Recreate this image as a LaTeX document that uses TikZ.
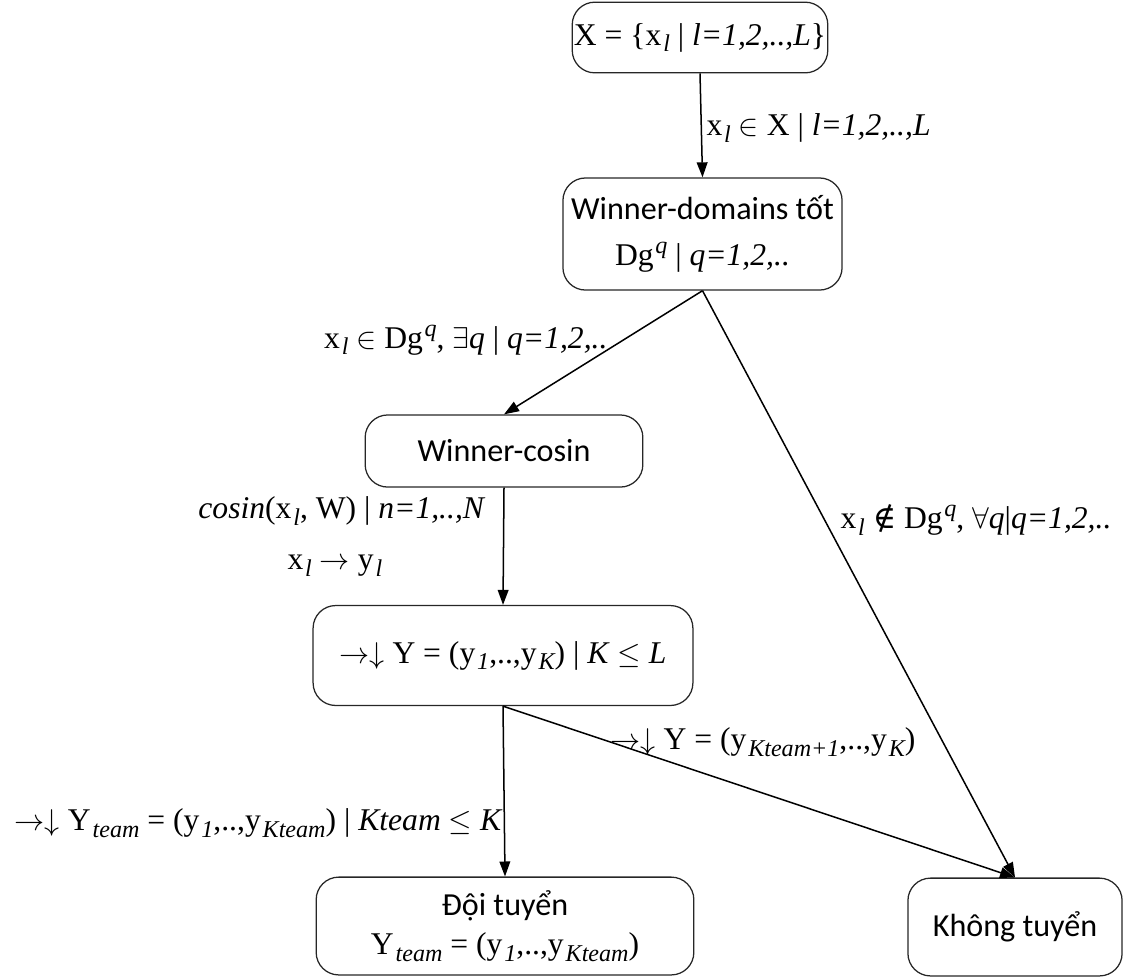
\documentclass[tikz,border=0pt]{standalone}
\usepackage{fontspec}
\setmainfont{Liberation Serif}
\newfontfamily\boxfont{Carlito}
\newfontfamily\symfont{DejaVu Serif}
\usetikzlibrary{arrows.meta,calc,positioning}

\newcommand{\sbi}[1]{\kern0.06em\raisebox{-0.45ex}{\fontsize{9.6}{10}\selectfont\itshape #1}}
\newcommand{\spi}[1]{\kern0.05em\raisebox{0.85ex}{\fontsize{9.6}{10}\selectfont\itshape #1}}
\newcommand{\sanslabel}{\boxfont\fontsize{12.8}{14}\selectfont}

\begin{document}
\begin{tikzpicture}[
  x=0.014cm, y=-0.014cm,
  box/.style={draw=black!85,line width=0.5pt,rounded corners=9pt,align=center,inner sep=0pt,font=\fontsize{12.6}{18.5}\selectfont},
  lbl/.style={inner sep=0pt,font=\fontsize{12.6}{15}\selectfont},
  arr/.style={-{Triangle[length=2.1mm,width=1.5mm]},line width=0.6pt}
]
  \useasboundingbox (0,0) rectangle (1123,976);

  \node[box,minimum width=3.58cm,minimum height=0.99cm] (xset) at (700,37.5)
    {X = \{x\sbi{l} | \textit{l=1,2,..,L}\}};
  \node[box,minimum width=3.91cm,minimum height=1.57cm] (dom) at (702.5,234)
    {{\sanslabel Winner-domains tốt}\\Dg\spi{q} | \textit{q=1,2,..}};
  \node[box,minimum width=3.89cm,minimum height=1.01cm] (cosin) at (504,451)
    {\sanslabel Winner-cosin};
  \node[box,minimum width=5.32cm,minimum height=1.40cm] (ybox) at (503,655.5)
    {$\rightarrow\downarrow$ Y = (y\sbi{1},..,y\sbi{K}) | \textit{K} $\leq$ \textit{L}};
  \node[box,minimum width=5.29cm,minimum height=1.37cm] (team) at (505,926)
    {{\sanslabel Đội tuyển}\\[-3pt]Y\sbi{team} = (y\sbi{1},..,y\sbi{Kteam})};
  \node[box,minimum width=3.00cm,minimum height=1.37cm] (reject) at (1015,927)
    {\sanslabel Không tuyển};

  \draw[arr] (xset.south) -- (dom.north);
  \draw[arr] (dom.south) -- (cosin.north);
  \draw[arr] (dom.south) -- (reject.north);
  \draw[arr] (cosin.south) -- (ybox.north);
  \draw[arr] (ybox.south) -- (team.north);
  \draw[arr] (ybox.south) -- (reject.north);

  \node[lbl,anchor=west] (lxset) at (706,128) {x\sbi{l} $\in$ X | \textit{l=1,2,..,L}};
  \node[lbl,anchor=east] (ldom) at (608,340) {x\sbi{l} $\in$ Dg\spi{q}, $\exists$\textit{q} | \textit{q=1,2,..}};
  \node[lbl,anchor=east] (lcos) at (486,511) {\textit{cosin}(x\sbi{l}, W) | \textit{n=1,..,N}};
  \node[lbl,anchor=west] (lmap) at (287,566) {x\sbi{l} $\rightarrow$ y\sbi{l}};
  \node[lbl,anchor=west] (lout) at (840,520) {x\sbi{l} {\symfont ∉} Dg\spi{q}, $\forall$\textit{q}|\textit{q=1,2,..}};
  \node[lbl,anchor=west] (lrest) at (610,742) {$\rightarrow\downarrow$ Y = (y\sbi{Kteam+1},..,y\sbi{K})};
  \node[lbl,anchor=east] (lteam) at (503,823) {$\rightarrow\downarrow$ Y\sbi{team} = (y\sbi{1},..,y\sbi{Kteam}) | \textit{Kteam} $\leq$ \textit{K}};
\end{tikzpicture}
\end{document}
